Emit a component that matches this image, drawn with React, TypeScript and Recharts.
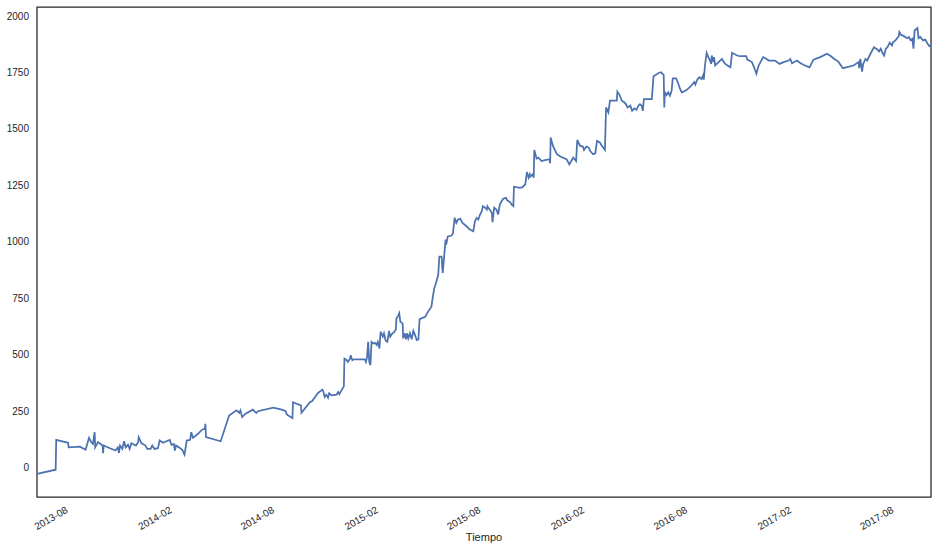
import { Line, LineChart, ReferenceArea, XAxis, YAxis } from "recharts"

const dates = [
  "2013-06-13", "2013-07-16", "2013-07-17", "2013-08-07", "2013-08-08", "2013-08-28", "2013-09-07", "2013-09-13",
  "2013-09-17", "2013-09-20", "2013-09-23", "2013-09-24", "2013-09-29", "2013-10-07", "2013-10-08", "2013-10-09",
  "2013-10-20", "2013-10-30", "2013-11-03", "2013-11-05", "2013-11-07", "2013-11-11", "2013-11-14", "2013-11-17",
  "2013-11-21", "2013-11-24", "2013-11-27", "2013-12-05", "2013-12-09", "2013-12-10", "2013-12-15", "2013-12-22",
  "2013-12-25", "2013-12-31", "2014-01-03", "2014-01-07", "2014-01-13", "2014-01-16", "2014-01-22", "2014-01-31",
  "2014-02-03", "2014-02-06", "2014-02-10", "2014-02-12", "2014-02-14", "2014-02-19", "2014-02-25", "2014-03-01",
  "2014-03-05", "2014-03-11", "2014-03-13", "2014-03-16", "2014-03-25", "2014-04-01", "2014-04-06", "2014-04-07",
  "2014-04-08", "2014-05-04", "2014-05-19", "2014-06-01", "2014-06-06", "2014-06-08", "2014-06-11", "2014-06-17",
  "2014-06-30", "2014-07-06", "2014-07-09", "2014-08-05", "2014-08-20", "2014-08-27", "2014-08-29", "2014-09-08",
  "2014-09-09", "2014-09-23", "2014-09-24", "2014-10-09", "2014-10-13", "2014-10-23", "2014-10-31", "2014-11-02",
  "2014-11-04", "2014-11-07", "2014-11-10", "2014-11-12", "2014-11-16", "2014-11-25", "2014-11-28", "2014-11-30",
  "2014-12-08", "2014-12-09", "2014-12-13", "2014-12-15", "2014-12-19", "2014-12-20", "2014-12-23", "2014-12-26",
  "2015-01-14", "2015-01-16", "2015-01-18", "2015-01-20", "2015-01-22", "2015-01-24", "2015-01-26", "2015-01-29",
  "2015-02-01", "2015-02-04", "2015-02-06", "2015-02-09", "2015-02-11", "2015-02-15", "2015-02-17", "2015-02-20",
  "2015-02-23", "2015-02-26", "2015-02-28", "2015-03-04", "2015-03-06", "2015-03-10", "2015-03-11", "2015-03-14",
  "2015-03-16", "2015-03-18", "2015-03-22", "2015-03-23", "2015-03-26", "2015-03-28", "2015-03-30", "2015-04-01",
  "2015-04-04", "2015-04-07", "2015-04-10", "2015-04-13", "2015-04-16", "2015-04-19", "2015-04-21", "2015-05-01",
  "2015-05-06", "2015-05-12", "2015-05-14", "2015-05-17", "2015-05-20", "2015-05-22", "2015-05-24", "2015-05-26",
  "2015-05-30", "2015-05-31", "2015-06-01", "2015-06-03", "2015-06-06", "2015-06-07", "2015-06-10", "2015-06-16",
  "2015-06-19", "2015-06-22", "2015-06-25", "2015-06-28", "2015-07-02", "2015-07-06", "2015-07-13", "2015-07-19",
  "2015-07-25", "2015-07-28", "2015-07-31", "2015-08-03", "2015-08-06", "2015-08-09", "2015-08-11", "2015-08-15",
  "2015-08-18", "2015-08-19", "2015-08-22", "2015-08-27", "2015-08-28", "2015-08-31", "2015-09-04", "2015-09-07",
  "2015-09-10", "2015-09-13", "2015-09-16", "2015-09-21", "2015-09-23", "2015-09-28", "2015-10-01", "2015-10-04",
  "2015-10-05", "2015-10-13", "2015-10-19", "2015-10-25", "2015-10-28", "2015-10-31", "2015-11-02", "2015-11-03",
  "2015-11-07", "2015-11-09", "2015-11-10", "2015-11-14", "2015-11-17", "2015-11-23", "2015-11-29", "2015-12-07",
  "2015-12-08", "2015-12-09", "2015-12-13", "2015-12-20", "2015-12-26", "2016-01-06", "2016-01-11", "2016-01-18",
  "2016-01-23", "2016-01-25", "2016-01-30", "2016-02-04", "2016-02-06", "2016-02-10", "2016-02-14", "2016-02-17",
  "2016-02-22", "2016-02-26", "2016-02-29", "2016-03-05", "2016-03-08", "2016-03-14", "2016-03-16", "2016-03-20",
  "2016-03-23", "2016-04-04", "2016-04-05", "2016-04-09", "2016-04-13", "2016-04-17", "2016-04-20", "2016-04-23",
  "2016-04-28", "2016-05-01", "2016-05-05", "2016-05-09", "2016-05-12", "2016-05-15", "2016-05-18", "2016-05-20",
  "2016-05-22", "2016-06-05", "2016-06-08", "2016-06-17", "2016-06-21", "2016-06-26", "2016-06-27", "2016-06-28",
  "2016-07-01", "2016-07-04", "2016-07-07", "2016-07-10", "2016-07-12", "2016-07-18", "2016-07-22", "2016-07-25",
  "2016-07-28", "2016-07-31", "2016-08-06", "2016-08-13", "2016-08-19", "2016-08-21", "2016-08-24", "2016-08-28",
  "2016-09-01", "2016-09-04", "2016-09-05", "2016-09-07", "2016-09-10", "2016-09-13", "2016-09-16", "2016-09-18",
  "2016-09-19", "2016-09-22", "2016-09-23", "2016-09-25", "2016-10-01", "2016-10-07", "2016-10-10", "2016-10-13",
  "2016-10-17", "2016-10-22", "2016-10-25", "2016-11-03", "2016-11-08", "2016-11-19", "2016-11-21", "2016-11-29",
  "2016-12-03", "2016-12-07", "2016-12-11", "2016-12-19", "2016-12-23", "2016-12-29", "2017-01-09", "2017-01-17",
  "2017-01-24", "2017-02-02", "2017-02-05", "2017-02-08", "2017-02-17", "2017-02-22", "2017-02-28", "2017-03-11",
  "2017-03-18", "2017-03-30", "2017-04-11", "2017-04-18", "2017-04-24", "2017-05-01", "2017-05-09", "2017-05-28",
  "2017-06-06", "2017-06-07", "2017-06-09", "2017-06-12", "2017-06-14", "2017-06-18", "2017-06-21", "2017-06-27",
  "2017-07-03", "2017-07-09", "2017-07-12", "2017-07-15", "2017-07-18", "2017-07-21", "2017-07-24", "2017-07-27",
  "2017-07-31", "2017-08-04", "2017-08-06", "2017-08-10", "2017-08-16", "2017-08-17", "2017-08-20", "2017-08-25",
  "2017-08-31", "2017-09-03", "2017-09-06", "2017-09-09", "2017-09-11", "2017-09-13", "2017-09-18", "2017-09-20",
  "2017-09-23", "2017-09-28", "2017-10-02", "2017-10-06", "2017-10-09", "2017-10-12",
]

const values = [
  -28, -9, 123, 110, 90, 93, 79, 132,
  113, 105, 157, 90, 113, 98, 64, 98,
  86, 76, 90, 65, 98, 83, 117, 90,
  102, 83, 108, 98, 113, 135, 108, 98,
  83, 83, 98, 83, 86, 120, 110, 120,
  123, 101, 105, 76, 98, 90, 79, 58,
  120, 123, 157, 132, 150, 168, 172, 194,
  135, 117, 231, 254, 243, 254, 224, 239,
  257, 242, 250, 266, 257, 250, 236, 219,
  290, 276, 243, 290, 295, 330, 346, 335,
  313, 323, 310, 330, 320, 323, 335, 325,
  360, 483, 476, 468, 483, 498, 476, 480,
  480, 468, 488, 557, 468, 454, 557, 550,
  553, 543, 557, 528, 602, 580, 595, 562,
  557, 606, 580, 595, 597, 612, 661, 672,
  684, 646, 639, 572, 595, 568, 595, 572,
  595, 568, 606, 587, 565, 568, 658, 668,
  691, 713, 750, 795, 817, 835, 854, 935,
  935, 891, 862, 921, 1010, 987, 1024, 1027,
  1036, 1106, 1084, 1099, 1102, 1084, 1069, 1054,
  1047, 1091, 1106, 1099, 1121, 1136, 1158, 1151,
  1143, 1158, 1146, 1128, 1087, 1151, 1143, 1121,
  1165, 1180, 1191, 1195, 1184, 1176, 1165, 1158,
  1244, 1240, 1240, 1254, 1309, 1284, 1299, 1289,
  1299, 1284, 1407, 1369, 1373, 1358, 1362, 1366,
  1348, 1462, 1425, 1388, 1378, 1366, 1343, 1373,
  1358, 1451, 1425, 1422, 1407, 1422, 1418, 1402,
  1388, 1392, 1447, 1440, 1428, 1407, 1595, 1573,
  1625, 1625, 1665, 1650, 1625, 1618, 1610, 1595,
  1603, 1580, 1591, 1585, 1603, 1610, 1603, 1580,
  1632, 1632, 1733, 1748, 1751, 1739, 1595, 1662,
  1650, 1662, 1647, 1669, 1724, 1724, 1699, 1677,
  1662, 1665, 1673, 1689, 1707, 1697, 1717, 1729,
  1721, 1739, 1718, 1781, 1837, 1818, 1803, 1788,
  1825, 1796, 1818, 1781, 1796, 1810, 1798, 1788,
  1781, 1773, 1837, 1825, 1822, 1822, 1807, 1796,
  1773, 1744, 1781, 1818, 1813, 1803, 1803, 1788,
  1796, 1803, 1810, 1791, 1803, 1793, 1784, 1773,
  1807, 1818, 1833, 1822, 1810, 1798, 1769, 1781,
  1796, 1769, 1810, 1754, 1788, 1810, 1803, 1833,
  1862, 1852, 1843, 1855, 1837, 1825, 1855, 1862,
  1882, 1870, 1885, 1892, 1911, 1929, 1917, 1911,
  1902, 1907, 1892, 1899, 1855, 1936, 1947, 1902,
  1907, 1892, 1896, 1877, 1867, 1870,
]

const tickDates = [
  "2013-08-01", "2014-02-01", "2014-08-01", "2015-02-01", "2015-08-01",
  "2016-02-01", "2016-08-01", "2017-02-01", "2017-08-01",
]

const yTicks = [0, 250, 500, 750, 1000, 1250, 1500, 1750, 2000]

const data = dates.map((d, i) => ({ t: Date.parse(d), v: values[i] }))
const xMin = data[0].t
const xMax = data[data.length - 1].t

const font = "'Liberation Sans', Arial, sans-serif"
const ink = "#262626"

const fmtMonth = (t: number) => {
  const d = new Date(t)
  return `${d.getUTCFullYear()}-${String(d.getUTCMonth() + 1).padStart(2, "0")}`
}

const DateTick = ({ x, y, payload }: any) => {
  const ax = x + 4
  const ay = y + 15
  return (
    <text
      x={ax}
      y={ay}
      transform={`rotate(-30, ${ax}, ${ay})`}
      textAnchor="end"
      fontSize={10}
      fontFamily={font}
      fill={ink}
    >
      {fmtMonth(payload.value)}
    </text>
  )
}

export default function App() {
  return (
    <div style={{ position: "absolute", left: 0, top: 0, background: "#fff" }}>
      <LineChart width={936} height={552} data={data} margin={{ top: 7, right: 5, bottom: 0, left: 0 }}>
        <XAxis
          dataKey="t"
          type="number"
          domain={[xMin, xMax]}
          ticks={tickDates.map((d) => Date.parse(d))}
          interval={0}
          tick={<DateTick />}
          tickLine={false}
          axisLine={false}
          tickSize={0}
          tickMargin={0}
          height={55}
          label={{ value: "Tiempo", position: "insideBottom", offset: 11, fill: ink, fontSize: 11, fontFamily: font }}
        />
        <YAxis
          type="number"
          domain={[-130, 2040]}
          ticks={yTicks}
          interval={0}
          tickLine={false}
          axisLine={false}
          tickSize={0}
          tickMargin={8}
          width={37}
          tick={{ fontSize: 10, fill: ink, fontFamily: font }}
        />
        <ReferenceArea x1={xMin} x2={xMax} y1={-130} y2={2040} fill="none" stroke={ink} strokeWidth={1.25} />
        <Line
          type="linear"
          dataKey="v"
          stroke="#4C72B0"
          strokeWidth={1.75}
          dot={false}
          activeDot={false}
          isAnimationActive={false}
        />
      </LineChart>
    </div>
  )
}
